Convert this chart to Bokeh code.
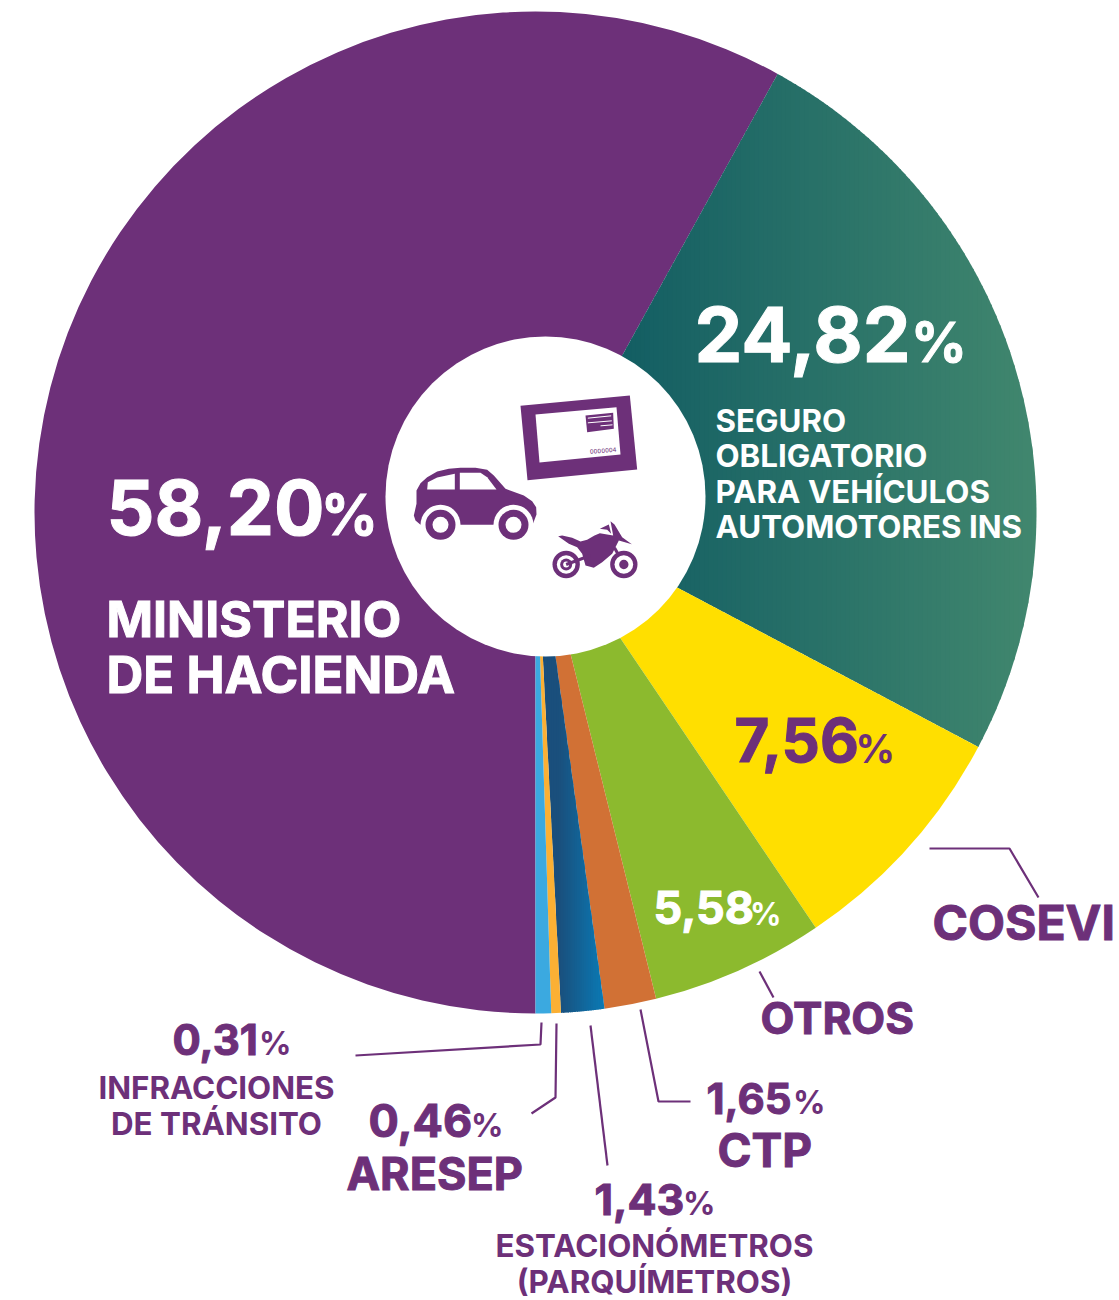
import math
from bokeh.plotting import figure
from bokeh.models import Range1d
from bokeh.core.properties import value
from bokeh.embed import file_html
from bokeh.resources import INLINE

# ---- data ----
categories = ["Ministerio de Hacienda", "Seguro obligatorio", "COSEVI", "Otros", "CTP",
              "Estacionómetros", "ARESEP", "Infracciones de tránsito"]
label_values = ["58,20", "24,82", "7,56", "5,58", "1,65", "1,43", "0,46", "0,31"]
# slice shares as drawn in the picture (%)
slice_shares = [58.03, 24.72, 7.80, 5.58, 1.67, 1.39, 0.31, 0.50]
slice_colors = ["#6d3079", None, "#ffdf00", "#8cba2e", "#d17135", None, "#fbb034", "#3ba9e0"]
gradient_ends = {1: ("#135e63", "#41876e", 625, 110), 5: ("#1a4f7c", "#0a7ab5", 559, 30)}

PURPLE = "#6d3079"
FONT = "Inter"
W, H = 1119, 1300
CX, CY, R = 535, 512, 501
HOLE_X, HOLE_Y, HOLE_R = 545, 496, 160
BASE_K = 0.37


def Y(v):
    return H - v


p = figure(width=W, height=H, x_range=Range1d(0, W), y_range=Range1d(0, H),
           output_backend="svg", toolbar_location=None, min_border=0,
           outline_line_color=None, background_fill_color="white", border_fill_color="white")
p.axis.visible = False
p.grid.visible = False


def pt(deg_cw_from_top, r=R):
    a = math.radians(deg_cw_from_top)
    return CX + r * math.sin(a), CY - r * math.cos(a)


def hex2rgb(h):
    return [int(h[i:i + 2], 16) for i in (1, 3, 5)]


def mix(a, b, t):
    ca, cb = hex2rgb(a), hex2rgb(b)
    return "#%02x%02x%02x" % tuple(round(u + (v - u) * t) for u, v in zip(ca, cb))


def clip(poly, x0, keep_right):
    out = []
    n = len(poly)
    for i in range(n):
        a, b = poly[i], poly[(i + 1) % n]
        ina = a[0] >= x0 if keep_right else a[0] <= x0
        inb = b[0] >= x0 if keep_right else b[0] <= x0
        if ina:
            out.append(a)
        if ina != inb:
            t = (x0 - a[0]) / (b[0] - a[0])
            out.append((x0, a[1] + (b[1] - a[1]) * t))
    return out


def gradient_wedge(a0, a1, c0, c1, start, nstrips):
    n = 200
    poly = [(CX, CY)] + [pt(a0 + (a1 - a0) * i / n) for i in range(n + 1)]
    xmin = min(q[0] for q in poly)
    xmax = max(q[0] for q in poly)
    xs, ys, cols = [], [], []
    for k in range(nstrips):
        l = xmin + (xmax - xmin) * k / nstrips
        r = xmin + (xmax - xmin) * (k + 1) / nstrips + 1.0
        s = clip(clip(poly, l, True), r, False)
        if len(s) < 3:
            continue
        xs.append([q[0] for q in s])
        ys.append([Y(q[1]) for q in s])
        cols.append(mix(c0, c1, max(0.0, ((l + r) / 2 - start) / (xmax - start))))
    p.patches(xs, ys, fill_color=cols, line_color=None)


# slices: clockwise, the first one starts at the bottom of the ring
angle = 180.0
for i, share in enumerate(slice_shares):
    sweep = share * 3.6
    a0, a1 = angle, angle + sweep
    if i in gradient_ends:
        c0, c1, start, strips = gradient_ends[i]
        gradient_wedge(a0, a1, c0, c1, start, strips)
    else:
        p.wedge(x=[CX], y=[Y(CY)], radius=R,
                start_angle=[math.radians(90 - a1)], end_angle=[math.radians(90 - a0)],
                fill_color=slice_colors[i], line_color=None)
    angle = a1

p.circle(x=[HOLE_X], y=[Y(HOLE_Y)], radius=HOLE_R, fill_color="white", line_color=None)

# ---- leader lines ----
leaders = [
    ([929, 1009, 1038], [848, 848, 897]),
    ([759, 773], [971, 997]),
    ([640, 658, 690], [1009, 1101, 1101]),
    ([590, 607], [1025, 1165]),
    ([556, 555, 531], [1023, 1097, 1113]),
    ([541, 540, 355], [1022, 1044, 1055]),
]
for lx, ly in leaders:
    p.line(lx, [Y(v) for v in ly], line_color=PURPLE, line_width=2.2)


# ---- icons (drawn in zoom coordinates of the hole region) ----
def ix(v):
    return 390 + v / 3


def iy(v):
    return Y(340 + v / 3)


def shape(pts, color):
    p.patch([ix(a) for a, _ in pts], [iy(b) for _, b in pts], fill_color=color, line_color=None)


def disc(x, y, r, color):
    p.circle(x=[ix(x)], y=[iy(y)], radius=r / 3, fill_color=color, line_color=None)


# card
shape([(390, 196), (718, 165), (740, 387), (411, 419)], PURPLE)
shape([(435, 222), (678, 200), (690, 342), (447, 366)], "white")
shape([(585, 225), (668, 217), (670, 265), (590, 275)], PURPLE)
for a, b in [((592, 233), (662, 226)), ((592, 247), (664, 241)), ((630, 256), (666, 253))]:
    p.line([ix(a[0]), ix(b[0])], [iy(a[1]), iy(b[1])], line_color="white", line_width=1)
p.text(x=[ix(598)], y=[iy(332)], text=["0000004"], text_font=value("DejaVu Sans"), text_font_size="6px",
       text_color=PURPLE, angle=[math.radians(4)], text_baseline="middle")
# car
shape([(70, 525), (78, 490), (78, 450), (90, 428), (110, 410), (140, 393), (175, 385), (210, 382), (255, 382),
       (290, 388), (310, 405), (345, 445), (400, 465), (425, 482), (437, 500), (438, 522), (428, 548), (369, 553),
       (150, 553), (90, 553), (75, 540)], PURPLE)
shape([(110, 447), (112, 425), (140, 411), (193, 400), (193, 447)], "white")
shape([(208, 447), (208, 397), (270, 397), (290, 410), (318, 447)], "white")
shape([(210, 556), (310, 556), (310, 600), (210, 600)], "white")
for wx in (150, 369):
    disc(wx, 553, 60, "white")
shape([(60, 560), (430, 560), (430, 600), (60, 600)], "white")
for wx in (150, 369):
    disc(wx, 553, 45, PURPLE)
    disc(wx, 553, 24, "white")
# motorcycle
shape([(503, 587), (515, 585), (545, 592), (570, 603), (590, 598), (612, 585), (628, 578), (650, 582), (668, 585),
       (660, 542), (672, 552), (695, 590), (724, 611), (685, 600), (665, 640), (635, 665), (610, 682), (585, 675),
       (575, 640), (560, 620), (535, 610)], PURPLE)
shape([(628, 565), (655, 552), (662, 580), (650, 568)], PURPLE)
p.line([ix(672), ix(700)], [iy(622), iy(672)], line_color=PURPLE, line_width=3)
for (wx, wy) in [(527, 672), (700, 672)]:
    disc(wx, wy, 41, PURPLE)
    disc(wx, wy, 28, "white")
disc(527, 672, 18, PURPLE)
disc(527, 672, 9, "white")
disc(700, 672, 14, PURPLE)
p.line([ix(527), ix(600)], [iy(672), iy(645)], line_color=PURPLE, line_width=3)


# ---- texts ----
def put(s, x, base, size, color, align="left"):
    extra = {"text_outline_color": color} if size >= 40 else {}
    p.text(x=[x], y=[Y(base - BASE_K * size)], text=[s], text_font=value(FONT), text_font_style="bold",
           text_font_size=f"{size}px", text_color=color, text_align=align, text_baseline="alphabetic", **extra)


number_x = [106, 694, 734, 653, 706, 594, 368, 172]
number_y = [535, 362, 762, 924, 1114, 1215, 1137, 1055]
number_size = [75, 76, 60, 45, 42, 43, 45, 42]
number_color = ["white", "white", PURPLE, "white", PURPLE, PURPLE, PURPLE, PURPLE]
pct_x = [325, 915, 858, 752, 795, 685, 473, 261]
pct_size = [56, 55, 39, 31, 32, 32, 32, 32]

for i, s in enumerate(label_values):
    put(s, number_x[i], number_y[i], number_size[i], number_color[i])
    put("%", pct_x[i] - 0.08 * pct_size[i], number_y[i], pct_size[i], number_color[i])

name_texts = ["MINISTERIO", "DE HACIENDA", "SEGURO", "OBLIGATORIO", "PARA VEHÍCULOS", "AUTOMOTORES INS",
              "COSEVI", "OTROS", "CTP", "ESTACIONÓMETROS", "(PARQUÍMETROS)", "ARESEP", "INFRACCIONES", "DE TRÁNSITO"]
name_x = [106, 106, 715, 715, 715, 715, 932, 760, 717, 654, 654, 346, 216, 216]
name_y = [637, 693, 432, 467, 503, 538, 940, 1034, 1167, 1257, 1293, 1190, 1099, 1135]
name_size = [50, 51, 31.3, 31.3, 31.3, 31.3, 48, 44, 46, 31.3, 31.3, 45, 31.3, 31.3]
name_color = ["white"] * 6 + [PURPLE] * 8
name_align = ["left"] * 9 + ["center", "center", "left", "center", "center"]
for i, s in enumerate(name_texts):
    put(s, name_x[i], name_y[i], name_size[i], name_color[i], name_align[i])

open("out.html", "w").write(file_html(p, INLINE))
